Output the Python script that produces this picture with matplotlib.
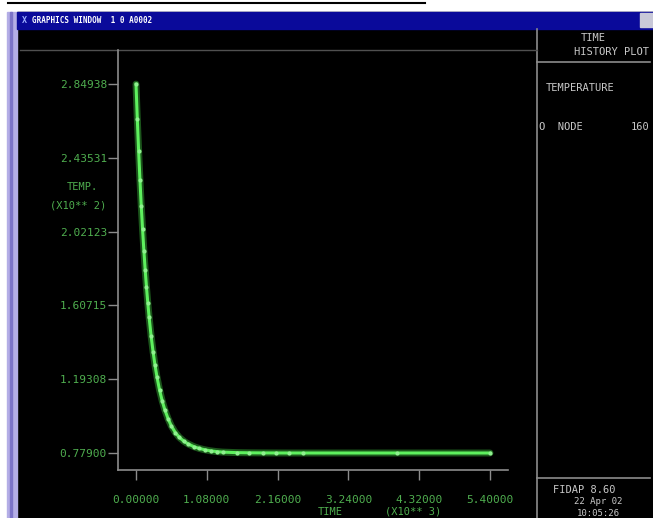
import numpy as np
import matplotlib.pyplot as plt
from matplotlib.patches import Rectangle

# time history of temperature at node 160 (time in x10**3, temp in x10**2)
time = [0.00, 0.02, 0.04, 0.06, 0.08, 0.10, 0.12, 0.14, 0.16, 0.18, 0.20,
        0.23, 0.26, 0.29, 0.32, 0.36, 0.40, 0.44, 0.49, 0.54, 0.60, 0.66,
        0.73, 0.80, 0.88, 0.96, 1.05, 1.14, 1.23, 1.32, 1.545, 1.73, 1.93,
        2.14, 2.34, 2.54, 3.98, 5.40]
temp = [2.849, 2.652, 2.474, 2.313, 2.166, 2.035, 1.915, 1.807, 1.709, 1.621,
        1.541, 1.437, 1.348, 1.271, 1.205, 1.131, 1.071, 1.021, 0.971, 0.930,
        0.894, 0.867, 0.845, 0.829, 0.815, 0.805, 0.797, 0.791, 0.787, 0.784,
        0.781, 0.780, 0.7795, 0.7792, 0.779, 0.779, 0.779, 0.779]

xticks = [0.0, 1.08, 2.16, 3.24, 4.32, 5.40]
xticklabels = ['0.00000', '1.08000', '2.16000', '3.24000', '4.32000', '5.40000']
yticks = [0.77900, 1.19308, 1.60715, 2.02123, 2.43531, 2.84938]
yticklabels = ['0.77900', '1.19308', '1.60715', '2.02123', '2.43531', '2.84938']

W, H = 653, 518
fig = plt.figure(figsize=(W / 100, H / 100), dpi=100)
fig.patch.set_facecolor('white')

# window chrome in pixel coordinates
bg = fig.add_axes([0, 0, 1, 1])
bg.set_xlim(0, W)
bg.set_ylim(H, 0)
bg.axis('off')

bg.add_patch(Rectangle((17, 12), W - 17, H - 12, color='black'))
bg.add_patch(Rectangle((7, 12), 10, H - 12, color='#b4aee6'))
bg.add_patch(Rectangle((10, 12), 2, H - 12, color='#7c74c8'))
bg.add_patch(Rectangle((17, 12), W - 17, 17, color='#0a0a9a'))
bg.add_patch(Rectangle((640, 13), 13, 14, color='#c8c8d8'))
bg.plot([8, 425], [3, 3], color='black', lw=1.5)
bg.text(22, 20.5, 'X', color='#9fb0ff', fontsize=6, family='DejaVu Sans Mono',
        fontweight='bold', va='center')
bg.text(32, 20.5, 'GRAPHICS WINDOW  1 0 A0002', color='white', fontsize=5.5,
        family='DejaVu Sans Mono', fontweight='bold', va='center')

grey = '#8c8c8c'
bg.plot([537, 537], [29, H], color=grey, lw=1.2)
bg.plot([20, 537], [50, 50], color='#505050', lw=1)
bg.plot([537, 650], [62, 62], color=grey, lw=1.2)
bg.plot([537, 650], [478, 478], color=grey, lw=1.2)

txt = dict(color='#c8c8c8', fontsize=7.5, family='DejaVu Sans Mono', va='center')
bg.text(593, 38, 'TIME', ha='center', **txt)
bg.text(649, 52, 'HISTORY PLOT', ha='right', **txt)
bg.text(546, 88, 'TEMPERATURE', ha='left', **txt)
bg.text(539, 127, 'O  NODE', ha='left', **txt)
bg.text(649, 127, '160', ha='right', **txt)
bg.text(553, 490, 'FIDAP 8.60', ha='left', **txt)
bg.text(598, 502, '22 Apr 02', ha='center', fontsize=6.5, color='#c8c8c8',
        family='DejaVu Sans Mono', va='center')
bg.text(598, 513, '10:05:26', ha='center', fontsize=6.5, color='#c8c8c8',
        family='DejaVu Sans Mono', va='center')

green = '#4fae4f'
bg.text(82, 187, 'TEMP.', ha='center', va='center', color=green, fontsize=7.5,
        family='DejaVu Sans Mono')
bg.text(78, 206, '(X10** 2)', ha='center', va='center', color=green, fontsize=7.5,
        family='DejaVu Sans Mono')
bg.text(330, 512, 'TIME', ha='center', va='center', color=green, fontsize=7.5,
        family='DejaVu Sans Mono')
bg.text(413, 512, '(X10** 3)', ha='center', va='center', color=green, fontsize=7.5,
        family='DejaVu Sans Mono')

# plot area
left, right, top, bottom = 118, 508, 50, 470
ax = fig.add_axes([left / W, (H - bottom) / H, (right - left) / W, (bottom - top) / H])
ax.set_facecolor('none')
xs = 354 / 5.4
ax.set_xlim(-(136 - left) / xs, (right - 136) / xs)
ys = 369 / (2.84938 - 0.779)
ax.set_ylim(0.779 - (bottom - 453) / ys, 2.84938 + (84 - top) / ys)

ax.plot(time, temp, color='#2e8f2e', lw=5, alpha=0.6, solid_capstyle='round')
ax.plot(time, temp, color='#5ef05e', lw=2.2, marker='o', ms=3,
        mfc='#8ff08f', mec='none')

for s in ['top', 'right']:
    ax.spines[s].set_visible(False)
for s in ['left', 'bottom']:
    ax.spines[s].set_color(grey)
    ax.spines[s].set_linewidth(1.2)

ax.set_xticks(xticks)
ax.set_xticklabels(xticklabels)
ax.set_yticks(yticks)
ax.set_yticklabels(yticklabels)
ax.tick_params(direction='out', length=7, width=1, color=grey,
               labelcolor=green, labelsize=8, pad=1)
ax.tick_params(axis='x', pad=11)
for lab in ax.get_xticklabels() + ax.get_yticklabels():
    lab.set_family('DejaVu Sans Mono')

fig.savefig('out.png', dpi=100, facecolor='white')
